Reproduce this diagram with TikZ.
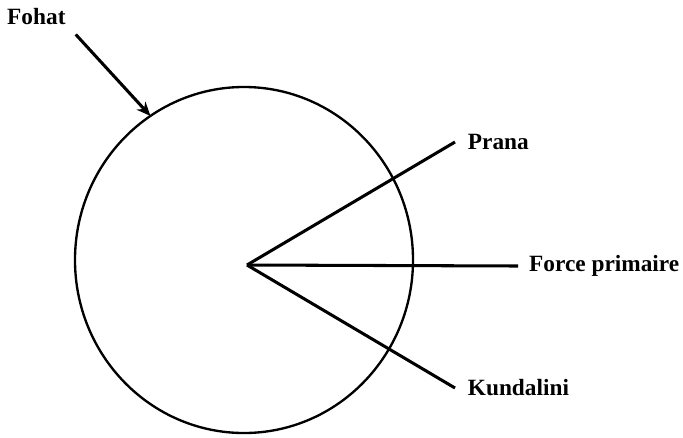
\documentclass[tikz,border=0pt]{standalone}
\usepackage{fontspec}
\setmainfont{Liberation Serif}
\usetikzlibrary{positioning,arrows.meta,shapes.geometric}

\begin{document}
\begin{tikzpicture}[x=0.03cm,y=-0.03cm,font=\bfseries\fontsize{19.9}{22}\selectfont]
  \tikzset{lbl/.style={anchor=west,inner xsep=0.38cm,inner ysep=0pt},
    spoke/.style={line width=2.6pt},
    rim/.style={ellipse,draw,line width=2pt,minimum width=10.14cm,minimum height=10.38cm,inner sep=0pt,outer sep=0pt}}
  \useasboundingbox (0,0) rectangle (683,437);
  \node[rim] (circ) at (244,260) {};
  \coordinate (c) at (247,265);
  \node[anchor=base west,inner sep=0.3cm] (fohat) at (-3,24) {Fohat};
  \node[lbl] (prana) at (455,142) {Prana};
  \node[lbl,inner xsep=0.33cm] (force) at (518,266) {Force primaire};
  \node[lbl] (kund) at (455,388) {Kundalini};
  \draw[spoke,-{Stealth[length=0.42cm,width=0.36cm]}] (fohat.south east) -- (circ.123.5);
  \draw[spoke] (c) -- (prana.west);
  \draw[spoke] (c) -- (force.west);
  \draw[spoke] (c) -- (kund.west);
\end{tikzpicture}
\end{document}
